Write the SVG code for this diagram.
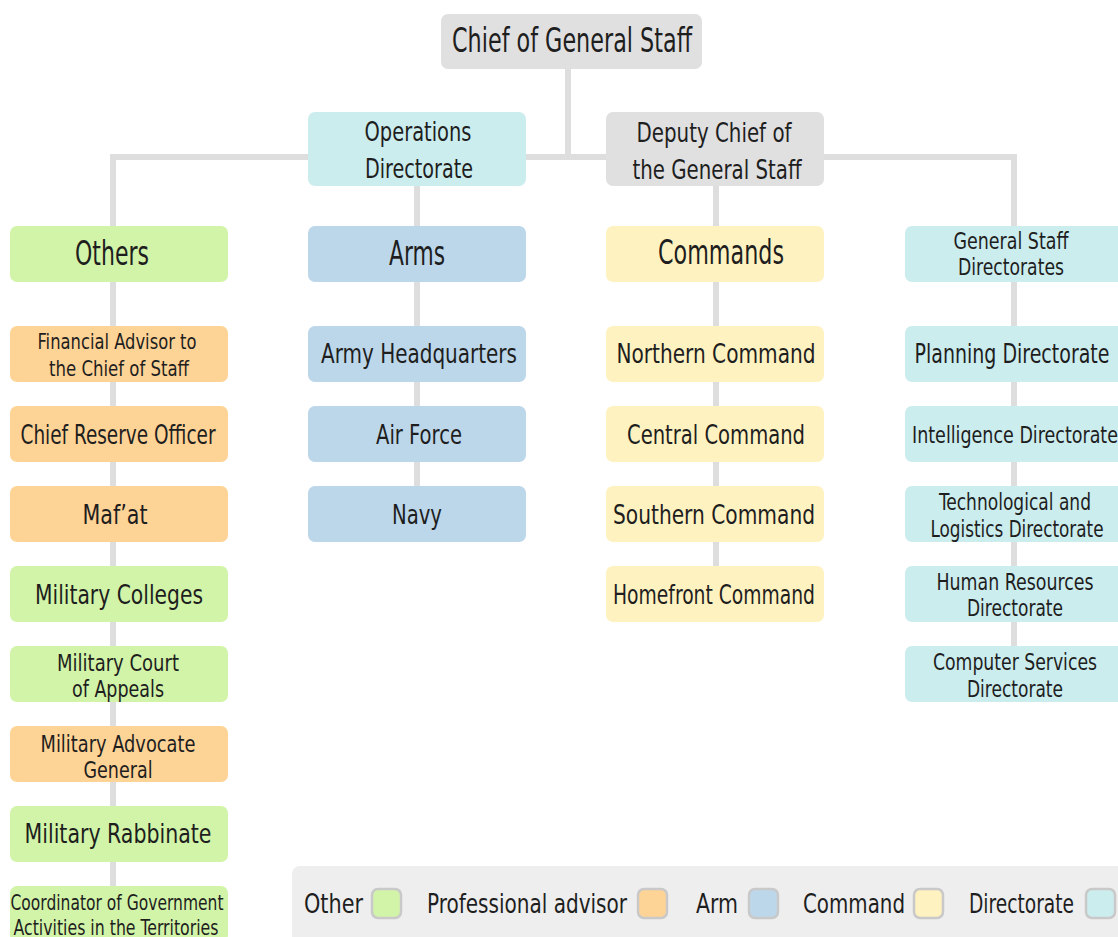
<svg xmlns="http://www.w3.org/2000/svg" width="1118" height="937" viewBox="0 0 1118 937">
<style>
text{font-family:"Liberation Sans Narrow","DejaVu Sans Condensed","Liberation Sans",sans-serif;fill:#1e1e1e;text-anchor:middle}
.conn{fill:none;stroke:#dedede;stroke-width:6}
.gray{fill:#e0e0e0}.cyan{fill:#ccedee}.green{fill:#d2f4a8}.orange{fill:#fed396}.blue{fill:#bdd7ea}.yellow{fill:#fef2c1}
.big{font-size:34px}.mid{font-size:27px}.sm{font-size:23px}.xs{font-size:21px}
.leg{font-size:27px;text-anchor:start}
.sw{stroke:#c9c9c9;stroke-width:2.5}
</style>
<rect width="1118" height="937" fill="#ffffff"/>
<g id="connectors">
<path class="conn" d="M568 69V157"/>
<path class="conn" d="M113 226V157H1014V226"/>
<path class="conn" d="M417 186V226"/>
<path class="conn" d="M716 186V226"/>
<path class="conn" d="M113 282V887"/>
<path class="conn" d="M417 282V486"/>
<path class="conn" d="M716 282V566"/>
<path class="conn" d="M1014 282V646"/>
</g>
<g id="chief"><rect class="gray" x="441" y="14" width="261" height="55" rx="7"/><text class="big" x="572" y="52" textLength="240" lengthAdjust="spacingAndGlyphs">Chief of General Staff</text></g>
<g id="operations"><rect class="cyan" x="308" y="112" width="218" height="74" rx="7"/><text class="mid" x="418" y="141" textLength="107" lengthAdjust="spacingAndGlyphs">Operations</text><text class="mid" x="419" y="178" textLength="108" lengthAdjust="spacingAndGlyphs">Directorate</text></g>
<g id="deputy"><rect class="gray" x="606" y="112" width="218" height="74" rx="7"/><text class="mid" x="714" y="142" textLength="155" lengthAdjust="spacingAndGlyphs">Deputy Chief of</text><text class="mid" x="717" y="179" textLength="169" lengthAdjust="spacingAndGlyphs">the General Staff</text></g>
<g id="others"><rect class="green" x="10" y="226" width="218" height="56" rx="7"/><text class="big" x="112" y="265" textLength="74" lengthAdjust="spacingAndGlyphs">Others</text></g>
<g id="arms"><rect class="blue" x="308" y="226" width="218" height="56" rx="7"/><text class="big" x="417" y="265" textLength="56" lengthAdjust="spacingAndGlyphs">Arms</text></g>
<g id="commands"><rect class="yellow" x="606" y="226" width="218" height="56" rx="7"/><text class="big" x="721" y="264" textLength="126" lengthAdjust="spacingAndGlyphs">Commands</text></g>
<g id="gsd"><rect class="cyan" x="905" y="226" width="220" height="56" rx="7"/><text class="sm" x="1011" y="249" textLength="115" lengthAdjust="spacingAndGlyphs">General Staff</text><text class="sm" x="1011" y="275" textLength="106" lengthAdjust="spacingAndGlyphs">Directorates</text></g>
<g id="financial"><rect class="orange" x="10" y="326" width="218" height="56" rx="7"/><text class="xs" x="117" y="349" textLength="159" lengthAdjust="spacingAndGlyphs">Financial Advisor to</text><text class="xs" x="119" y="376" textLength="140" lengthAdjust="spacingAndGlyphs">the Chief of Staff</text></g>
<g id="reserve"><rect class="orange" x="10" y="406" width="218" height="56" rx="7"/><text class="mid" x="118" y="444" textLength="195" lengthAdjust="spacingAndGlyphs">Chief Reserve Officer</text></g>
<g id="mafat"><rect class="orange" x="10" y="486" width="218" height="56" rx="7"/><text class="mid" x="115" y="524" textLength="65" lengthAdjust="spacingAndGlyphs">Maf’at</text></g>
<g id="colleges"><rect class="green" x="10" y="566" width="218" height="56" rx="7"/><text class="mid" x="119" y="604" textLength="168" lengthAdjust="spacingAndGlyphs">Military Colleges</text></g>
<g id="court"><rect class="green" x="10" y="646" width="218" height="56" rx="7"/><text class="sm" x="118" y="671" textLength="122" lengthAdjust="spacingAndGlyphs">Military Court</text><text class="sm" x="118" y="697" textLength="92" lengthAdjust="spacingAndGlyphs">of Appeals</text></g>
<g id="advocate"><rect class="orange" x="10" y="726" width="218" height="56" rx="7"/><text class="sm" x="118" y="752" textLength="155" lengthAdjust="spacingAndGlyphs">Military Advocate</text><text class="sm" x="118" y="778" textLength="69" lengthAdjust="spacingAndGlyphs">General</text></g>
<g id="rabbinate"><rect class="green" x="10" y="806" width="218" height="56" rx="7"/><text class="mid" x="118" y="843" textLength="187" lengthAdjust="spacingAndGlyphs">Military Rabbinate</text></g>
<g id="coordinator"><rect class="green" x="10" y="886" width="218" height="56" rx="7"/><text class="xs" x="117" y="910" textLength="213" lengthAdjust="spacingAndGlyphs">Coordinator of Government</text><text class="xs" x="116" y="935" textLength="205" lengthAdjust="spacingAndGlyphs">Activities in the Territories</text></g>
<g id="army"><rect class="blue" x="308" y="326" width="218" height="56" rx="7"/><text class="mid" x="419" y="363" textLength="196" lengthAdjust="spacingAndGlyphs">Army Headquarters</text></g>
<g id="airforce"><rect class="blue" x="308" y="406" width="218" height="56" rx="7"/><text class="mid" x="419" y="444" textLength="86" lengthAdjust="spacingAndGlyphs">Air Force</text></g>
<g id="navy"><rect class="blue" x="308" y="486" width="218" height="56" rx="7"/><text class="mid" x="417" y="524" textLength="50" lengthAdjust="spacingAndGlyphs">Navy</text></g>
<g id="northern"><rect class="yellow" x="606" y="326" width="218" height="56" rx="7"/><text class="mid" x="716" y="363" textLength="199" lengthAdjust="spacingAndGlyphs">Northern Command</text></g>
<g id="central"><rect class="yellow" x="606" y="406" width="218" height="56" rx="7"/><text class="mid" x="716" y="444" textLength="178" lengthAdjust="spacingAndGlyphs">Central Command</text></g>
<g id="southern"><rect class="yellow" x="606" y="486" width="218" height="56" rx="7"/><text class="mid" x="714" y="524" textLength="202" lengthAdjust="spacingAndGlyphs">Southern Command</text></g>
<g id="homefront"><rect class="yellow" x="606" y="566" width="218" height="56" rx="7"/><text class="mid" x="714" y="604" textLength="202" lengthAdjust="spacingAndGlyphs">Homefront Command</text></g>
<g id="planning"><rect class="cyan" x="905" y="326" width="220" height="56" rx="7"/><text class="mid" x="1012" y="363" textLength="195" lengthAdjust="spacingAndGlyphs">Planning Directorate</text></g>
<g id="intelligence"><rect class="cyan" x="905" y="406" width="220" height="56" rx="7"/><text class="sm" x="1015" y="443" textLength="206" lengthAdjust="spacingAndGlyphs">Intelligence Directorate</text></g>
<g id="techlog"><rect class="cyan" x="905" y="486" width="220" height="56" rx="7"/><text class="sm" x="1015" y="510" textLength="152" lengthAdjust="spacingAndGlyphs">Technological and</text><text class="sm" x="1017" y="537" textLength="173" lengthAdjust="spacingAndGlyphs">Logistics Directorate</text></g>
<g id="hr"><rect class="cyan" x="905" y="566" width="220" height="56" rx="7"/><text class="sm" x="1015" y="590" textLength="157" lengthAdjust="spacingAndGlyphs">Human Resources</text><text class="sm" x="1015" y="616" textLength="96" lengthAdjust="spacingAndGlyphs">Directorate</text></g>
<g id="computer"><rect class="cyan" x="905" y="646" width="220" height="56" rx="7"/><text class="sm" x="1015" y="670" textLength="164" lengthAdjust="spacingAndGlyphs">Computer Services</text><text class="sm" x="1015" y="697" textLength="96" lengthAdjust="spacingAndGlyphs">Directorate</text></g>
<g id="legend">
<rect x="292" y="866" width="840" height="90" rx="8" fill="#eeeeee"/>
<text class="leg" x="304" y="913" textLength="59" lengthAdjust="spacingAndGlyphs">Other</text>
<rect class="green sw" x="372" y="889" width="29" height="29" rx="6"/>
<text class="leg" x="427" y="913" textLength="200" lengthAdjust="spacingAndGlyphs">Professional advisor</text>
<rect class="orange sw" x="638" y="889" width="29" height="29" rx="6"/>
<text class="leg" x="696" y="913" textLength="42" lengthAdjust="spacingAndGlyphs">Arm</text>
<rect class="blue sw" x="749" y="889" width="29" height="29" rx="6"/>
<text class="leg" x="803" y="913" textLength="102" lengthAdjust="spacingAndGlyphs">Command</text>
<rect class="yellow sw" x="914" y="889" width="29" height="29" rx="6"/>
<text class="leg" x="969" y="913" textLength="105" lengthAdjust="spacingAndGlyphs">Directorate</text>
<rect class="cyan sw" x="1086" y="889" width="29" height="29" rx="6"/>
</g>
</svg>
